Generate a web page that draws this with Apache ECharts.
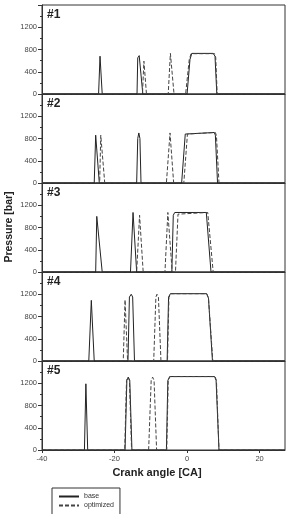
<!DOCTYPE html>
<html>
<head>
<meta charset="utf-8">
<script src="https://cdn.jsdelivr.net/npm/echarts@6/dist/echarts.min.js"></script>
<style>
    html, body { margin: 0; padding: 0; background: #fff; }
    #chart { width: 297px; height: 514px; }
</style>
</head>
<body>
<div id="chart"></div>
<script>
    // panel names and series names
    let panelNames = ['#1', '#2', '#3', '#4', '#5'];
    let seriesNames = ['base', 'optimized'];

    // [crank angle, pressure], one array per panel and case
    let base1 = [[-40, 0], [-24.4, 0], [-24.0, 680], [-23.4, 0], [-13.8, 0], [-13.6, 650], [-13.2, 690], [-12.9, 700], [-12.2, 0],
        [0.0, 0], [0.8, 620], [1.3, 730], [7.2, 730], [7.7, 680], [8.2, 0], [27, 0]];
    let opt1 = [[-40, 0], [-12.3, 0], [-11.9, 590], [-11.2, 0], [-5.2, 0], [-4.6, 730], [-3.6, 0],
        [-0.4, 0], [0.6, 620], [1.1, 725], [7.6, 725], [7.9, 660], [8.3, 0], [27, 0]];

    let base2 = [[-40, 0], [-25.6, 0], [-25.2, 860], [-24.2, 0], [-13.9, 0], [-13.6, 800], [-13.3, 900], [-13.0, 800], [-12.7, 0],
        [-1.5, 0], [-0.5, 880], [-0.2, 908], [7.5, 908], [7.8, 860], [8.4, 0], [27, 0]];
    let opt2 = [[-40, 0], [-24.1, 0], [-23.8, 860], [-22.7, 0], [-5.7, 0], [-4.7, 900], [-3.7, 0],
        [-0.9, 0], [0.1, 880], [0.4, 908], [7.8, 908], [8.1, 850], [8.8, 0], [27, 0]];

    let base3 = [[-40, 0], [-25.2, 0], [-24.9, 1000], [-23.4, 0], [-15.6, 0], [-14.9, 1070], [-13.9, 0],
        [-4.2, 0], [-3.8, 1020], [-3.4, 1070], [5.3, 1070], [6.6, 0], [27, 0]];
    let opt3 = [[-40, 0], [-13.9, 0], [-13.1, 1020], [-12.1, 0], [-6.1, 0], [-5.3, 1070], [-4.1, 0],
        [-3.2, 0], [-2.5, 1040], [-2.2, 1070], [5.7, 1070], [7.2, 0], [27, 0]];

    let base4 = [[-40, 0], [-27.1, 0], [-26.4, 1090], [-25.6, 0], [-16.3, 0], [-15.9, 1150], [-15.4, 1200], [-15.0, 1150], [-14.5, 0],
        [-5.5, 0], [-5.1, 1150], [-4.6, 1210], [5.4, 1210], [5.9, 1130], [7.0, 0], [27, 0]];
    let opt4 = [[-40, 0], [-17.6, 0], [-17.1, 1100], [-16.4, 0], [-9.2, 0], [-8.6, 1150], [-8.3, 1200], [-7.9, 1150], [-7.2, 0],
        [-5.4, 0], [-5.0, 1140], [-4.5, 1210], [5.4, 1210], [5.9, 1130], [7.1, 0], [27, 0]];

    let base5 = [[-40, 0], [-28.3, 0], [-27.9, 1190], [-27.4, 0], [-17.1, 0], [-16.6, 1250], [-16.2, 1310], [-15.8, 1250], [-15.2, 0],
        [-5.7, 0], [-5.3, 1250], [-4.8, 1320], [7.6, 1320], [8.0, 1250], [8.8, 0], [27, 0]];
    let opt5 = [[-40, 0], [-17.2, 0], [-16.7, 1250], [-16.3, 1310], [-15.9, 1250], [-15.3, 0], [-10.6, 0], [-9.9, 1250], [-9.5, 1310], [-9.1, 1250], [-8.4, 0],
        [-5.6, 0], [-5.2, 1250], [-4.7, 1320], [7.7, 1320], [8.1, 1250], [8.8, 0], [27, 0]];

    let baseData = [base1, base2, base3, base4, base5];
    let optData = [opt1, opt2, opt3, opt4, opt5];

    // axis ranges
    let xMin = -40, xMax = 27, xStep = 20;
    let yMin = 0, yMax = 1600, yStep = 400;

    let myChart = echarts.init(document.getElementById('chart'));
    let font = 'Arial, "Liberation Sans", sans-serif';
    let ink = '#333';

    let grids = [], xAxes = [], yAxes = [], series = [], graphics = [];
    let panelTop = 5, panelHeight = 89;

    panelNames.forEach(function(name, i) {
        let top = panelTop + i * panelHeight;
        let last = i == panelNames.length - 1;
        grids.push({
            left: 42,
            width: 243,
            top: top,
            height: panelHeight,
            show: true,
            borderColor: ink,
            borderWidth: 1,
            backgroundColor: 'transparent'
        });
        xAxes.push({
            type: 'value',
            gridIndex: i,
            min: xMin,
            max: xMax,
            interval: xStep,
            splitLine: { show: false },
            axisLine: { show: true, onZero: false, lineStyle: { color: ink, width: 1 } },
            axisTick: { show: last, length: 3, lineStyle: { color: ink } },
            axisLabel: {
                show: last,
                showMaxLabel: false,
                fontSize: 7.5,
                color: '#444',
                fontFamily: font,
                margin: 5
            }
        });
        yAxes.push({
            type: 'value',
            gridIndex: i,
            min: yMin,
            max: yMax,
            interval: yStep,
            splitLine: { show: false },
            axisLine: { show: true, onZero: false, lineStyle: { color: ink, width: 1 } },
            axisTick: { show: true, length: 4, lineStyle: { color: ink } },
            minorTick: { show: true, splitNumber: 2, length: 2, lineStyle: { color: ink } },
            axisLabel: {
                fontSize: 7.5,
                color: '#444',
                fontFamily: font,
                margin: 5,
                formatter: function(v) { return v == yMax ? '' : v; }
            }
        });
        series.push({
            name: seriesNames[0],
            type: 'line',
            xAxisIndex: i,
            yAxisIndex: i,
            data: baseData[i],
            symbol: 'none',
            lineStyle: { color: '#222', width: 1, type: 'solid' },
            itemStyle: { color: '#222' }
        });
        series.push({
            name: seriesNames[1],
            type: 'line',
            xAxisIndex: i,
            yAxisIndex: i,
            data: optData[i],
            symbol: 'none',
            lineStyle: { color: '#444', width: 1, type: [4, 2] },
            itemStyle: { color: '#444' }
        });
        graphics.push({
            type: 'text',
            left: 47,
            top: top + 4,
            style: { text: name, font: 'bold 12px ' + font, fill: '#222' }
        });
    });

    graphics.push({
        type: 'text',
        x: 9,
        y: 227,
        rotation: Math.PI / 2,
        style: {
            text: 'Pressure [bar]',
            font: 'bold 10.5px ' + font,
            fill: '#222',
            textAlign: 'center',
            textVerticalAlign: 'middle'
        }
    });
    graphics.push({
        type: 'text',
        x: 157,
        y: 473,
        style: {
            text: 'Crank angle [CA]',
            font: 'bold 11px ' + font,
            fill: '#222',
            textAlign: 'center',
            textVerticalAlign: 'middle'
        }
    });

    let option = {
        animation: false,
        grid: grids,
        xAxis: xAxes,
        yAxis: yAxes,
        series: series,
        graphic: graphics,
        legend: {
            data: seriesNames,
            orient: 'vertical',
            left: 52,
            top: 488,
            width: 70,
            height: 40,
            itemWidth: 20,
            itemHeight: 8,
            itemGap: 2,
            padding: [5, 6, 8, 6],
            borderColor: ink,
            borderWidth: 1,
            itemStyle: { opacity: 0 },
            textStyle: { fontSize: 7, color: '#333', fontFamily: font }
        }
    };
    myChart.setOption(option);
</script>
</body>
</html>
